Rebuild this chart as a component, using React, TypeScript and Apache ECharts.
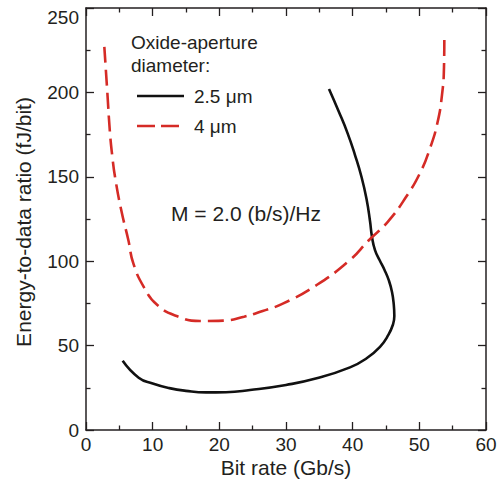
import React, { useEffect, useRef } from "react";
import * as echarts from "echarts";

const xTicks = [0, 10, 20, 30, 40, 50, 60];
const yTicks = [0, 50, 100, 150, 200, 250];

const seriesNames = ["2.5 μm", "4 μm"];

const black25X = [5.5, 7.9, 10, 12.5, 15, 18, 21, 24.6, 30, 34.6, 39.6, 42.1, 44.1, 45.35, 46.02, 46.25, 46.17, 45.9, 45.4, 44.78, 44.03, 43.35, 42.9, 42.6, 42.08, 41.33, 40.35, 39.23, 37.88, 36.45];
const black25Y = [41, 31, 27.5, 24.8, 23.2, 22.3, 22.4, 23.7, 26.7, 30.6, 37.1, 42.5, 49.3, 56.3, 62.2, 67.5, 74.1, 81.8, 88.9, 94.8, 100.7, 106.6, 114.3, 123.8, 136.8, 149.9, 162.9, 175.9, 189, 202];

const red4X = [2.75, 3.2, 3.6, 3.95, 4.35, 5.3, 6.35, 7.1, 8.7, 10.7, 13.6, 17.1, 20.6, 23.7, 26.5, 29.6, 34.6, 39.6, 42.35, 45.3, 48.0, 50.2, 51.6, 52.7, 53.4, 53.7, 53.75];
const red4Y = [227, 200, 175.8, 162, 150, 130, 112.6, 98.7, 84.5, 74, 67.5, 64.6, 64.8, 67.1, 70.5, 75, 85.9, 100.7, 112.1, 123.5, 138, 153, 166.9, 181.7, 198.5, 215.2, 231];

const FONT = "'Liberation Sans', Arial, Helvetica, sans-serif";
const TXT = "#231f20";
const RED = "#d52b26";

function zip(xs: number[], ys: number[]) {
  return xs.map((x, i) => [x, ys[i]]);
}

export default function App() {
  const ref = useRef<HTMLDivElement>(null);
  useEffect(() => {
    if (!ref.current) return;
    const chart = echarts.init(ref.current, null, { renderer: "svg" });
    const axisCommon = (min: number, max: number, interval: number) => ({
      type: "value" as const,
      min,
      max,
      interval,
      axisLine: { show: true, onZero: false, lineStyle: { color: TXT, width: 1.5 } },
      axisTick: { show: true, inside: true, length: 8, lineStyle: { color: TXT, width: 1.3 } },
      minorTick: { show: true, splitNumber: 2, length: 4.5, lineStyle: { color: TXT, width: 1.3 } },
      splitLine: { show: false },
      minorSplitLine: { show: false },
    });
    chart.setOption({
      animation: false,
      backgroundColor: "#ffffff",
      grid: { left: 86, right: 14, top: 8, bottom: 63, containLabel: false },
      xAxis: [
        {
          ...axisCommon(xTicks[0], xTicks[xTicks.length - 1], 10),
          position: "bottom",
          axisLabel: { fontSize: 19, color: TXT, fontFamily: FONT, margin: 5 },
        },
        {
          ...axisCommon(xTicks[0], xTicks[xTicks.length - 1], 10),
          position: "top",
          axisLabel: { show: false },
        },
      ],
      yAxis: [
        {
          ...axisCommon(yTicks[0], yTicks[yTicks.length - 1], 50),
          position: "left",
          axisLabel: { fontSize: 19, color: TXT, fontFamily: FONT, margin: 7, verticalAlignMaxLabel: "top" },
        },
        {
          ...axisCommon(yTicks[0], yTicks[yTicks.length - 1], 50),
          position: "right",
          axisLabel: { show: false },
        },
      ],
      series: [
        {
          name: seriesNames[0],
          type: "line",
          data: zip(black25X, black25Y),
          smooth: 0.5,
          showSymbol: false,
          symbol: "none",
          lineStyle: { color: "#111111", width: 2.6 },
          xAxisIndex: 0,
          yAxisIndex: 0,
        },
        {
          name: seriesNames[1],
          type: "line",
          data: zip(red4X, red4Y),
          smooth: 0.5,
          showSymbol: false,
          symbol: "none",
          lineStyle: { color: RED, width: 2.6, type: [16, 7] },
          xAxisIndex: 0,
          yAxisIndex: 0,
        },
      ],
      graphic: [
        {
          type: "text",
          x: 286,
          y: 467,
          style: { text: "Bit rate (Gb/s)", font: `21px ${FONT}`, fill: TXT, align: "center", verticalAlign: "middle" },
        },
        {
          type: "text",
          x: 23,
          y: 222,
          rotation: Math.PI / 2,
          style: { text: "Energy-to-data ratio (fJ/bit)", font: `21px ${FONT}`, fill: TXT, align: "center", verticalAlign: "middle" },
        },
        {
          type: "text",
          x: 131,
          y: 42,
          style: { text: "Oxide-aperture", font: `19px ${FONT}`, fill: TXT, align: "left", verticalAlign: "middle" },
        },
        {
          type: "text",
          x: 131,
          y: 65,
          style: { text: "diameter:", font: `19px ${FONT}`, fill: TXT, align: "left", verticalAlign: "middle" },
        },
        {
          type: "line",
          shape: { x1: 137, y1: 96, x2: 184, y2: 96 },
          style: { stroke: "#111111", lineWidth: 2.6 },
        },
        {
          type: "text",
          x: 194,
          y: 96,
          style: { text: seriesNames[0], font: `19px ${FONT}`, fill: TXT, align: "left", verticalAlign: "middle" },
        },
        {
          type: "line",
          shape: { x1: 137, y1: 126, x2: 184, y2: 126 },
          style: { stroke: RED, lineWidth: 2.6, lineDash: [18, 6] },
        },
        {
          type: "text",
          x: 194,
          y: 126,
          style: { text: seriesNames[1], font: `19px ${FONT}`, fill: TXT, align: "left", verticalAlign: "middle" },
        },
        {
          type: "text",
          x: 171,
          y: 213,
          style: { text: "M = 2.0 (b/s)/Hz", font: `21px ${FONT}`, fill: TXT, align: "left", verticalAlign: "middle" },
        },
      ],
    });
    return () => chart.dispose();
  }, []);
  return <div ref={ref} style={{ position: "fixed", left: 0, top: 0, width: 500, height: 493 }} />;
}
